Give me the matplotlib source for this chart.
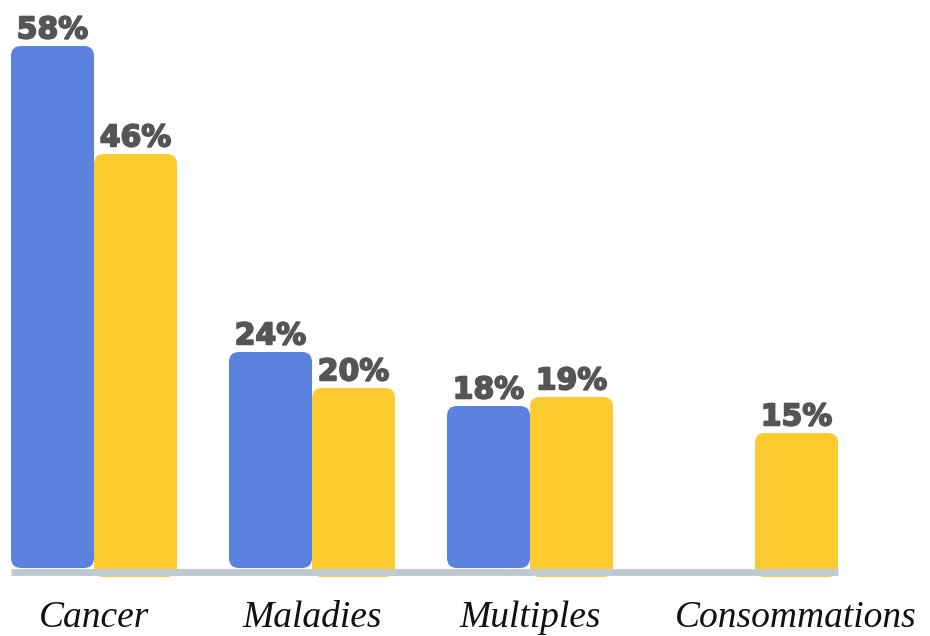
import matplotlib
matplotlib.use('Agg')
import matplotlib.pyplot as plt
import matplotlib.patheffects as pe
from matplotlib.patches import FancyBboxPatch
import numpy as np

# ---- Data ----
categories = ['Cancer', 'Maladies', 'Multiples', 'Consommations']
blue_vals = [58, 24, 18, None]
yellow_vals = [46, 20, 19, 15]

BLUE = '#5B82DF'
YELLOW = '#FDCB2F'
LINE = '#BFCBD0'
TXT = '#555555'

# ---- Layout (pixel-ish scale: 218 px per group, 9 px per %) ----
W, H = 930, 636
px_x = 1 / 218.0
px_y = 1 / 9.0
x0_px, y0_px = 94, 568
fig = plt.figure(figsize=(W / 100, H / 100), dpi=100)
ax = fig.add_axes([0, 0, 1, 1])
ax.set_xlim(-x0_px * px_x, (W - x0_px) * px_x)
ax.set_ylim(-(H - y0_px) * px_y, y0_px * px_y)
ax.axis('off')

bw = 83 * px_x
r = 10 * px_x
aspect = px_y / px_x
group_x = np.arange(len(categories), dtype=float)
group_x[-1] += 7 * px_x


def rounded_bar(x, h, color, bottom=0.0):
    p = FancyBboxPatch((x - bw / 2, bottom), bw, h - bottom,
                       boxstyle=f'round,pad=0,rounding_size={r}',
                       mutation_aspect=aspect, fc=color, ec='none', zorder=2)
    ax.add_patch(p)


def value_label(x, v):
    ax.text(x, v + 0.85, f'{v}%', ha='center', va='baseline',
            fontsize=21.5, color=TXT, family='DejaVu Sans',
            fontweight='bold', zorder=4,
            path_effects=[pe.withStroke(linewidth=1.3, foreground=TXT)])


off = 41.5 * px_x
for gx, b, yv in zip(group_x, blue_vals, yellow_vals):
    if b is not None:
        rounded_bar(gx - off, b, BLUE)
        value_label(gx - off, b)
    rounded_bar(gx + off, yv, YELLOW, bottom=-1.0)
    value_label(gx + off, yv)

# baseline
ax.hlines(-3.5 * px_y, -83 * px_x, (838 - x0_px) * px_x, color=LINE,
          linewidth=5.1, zorder=3)

# category labels
label_x = list(group_x[:-1]) + [group_x[-1] + 41 * px_x]
for lx, c in zip(label_x, categories):
    ax.text(lx, -59 * px_y, c, ha='center', va='baseline', fontsize=27,
            style='italic', family=['Liberation Serif', 'DejaVu Serif'],
            color='#111111')

fig.savefig('out.png', dpi=100, facecolor='white')
